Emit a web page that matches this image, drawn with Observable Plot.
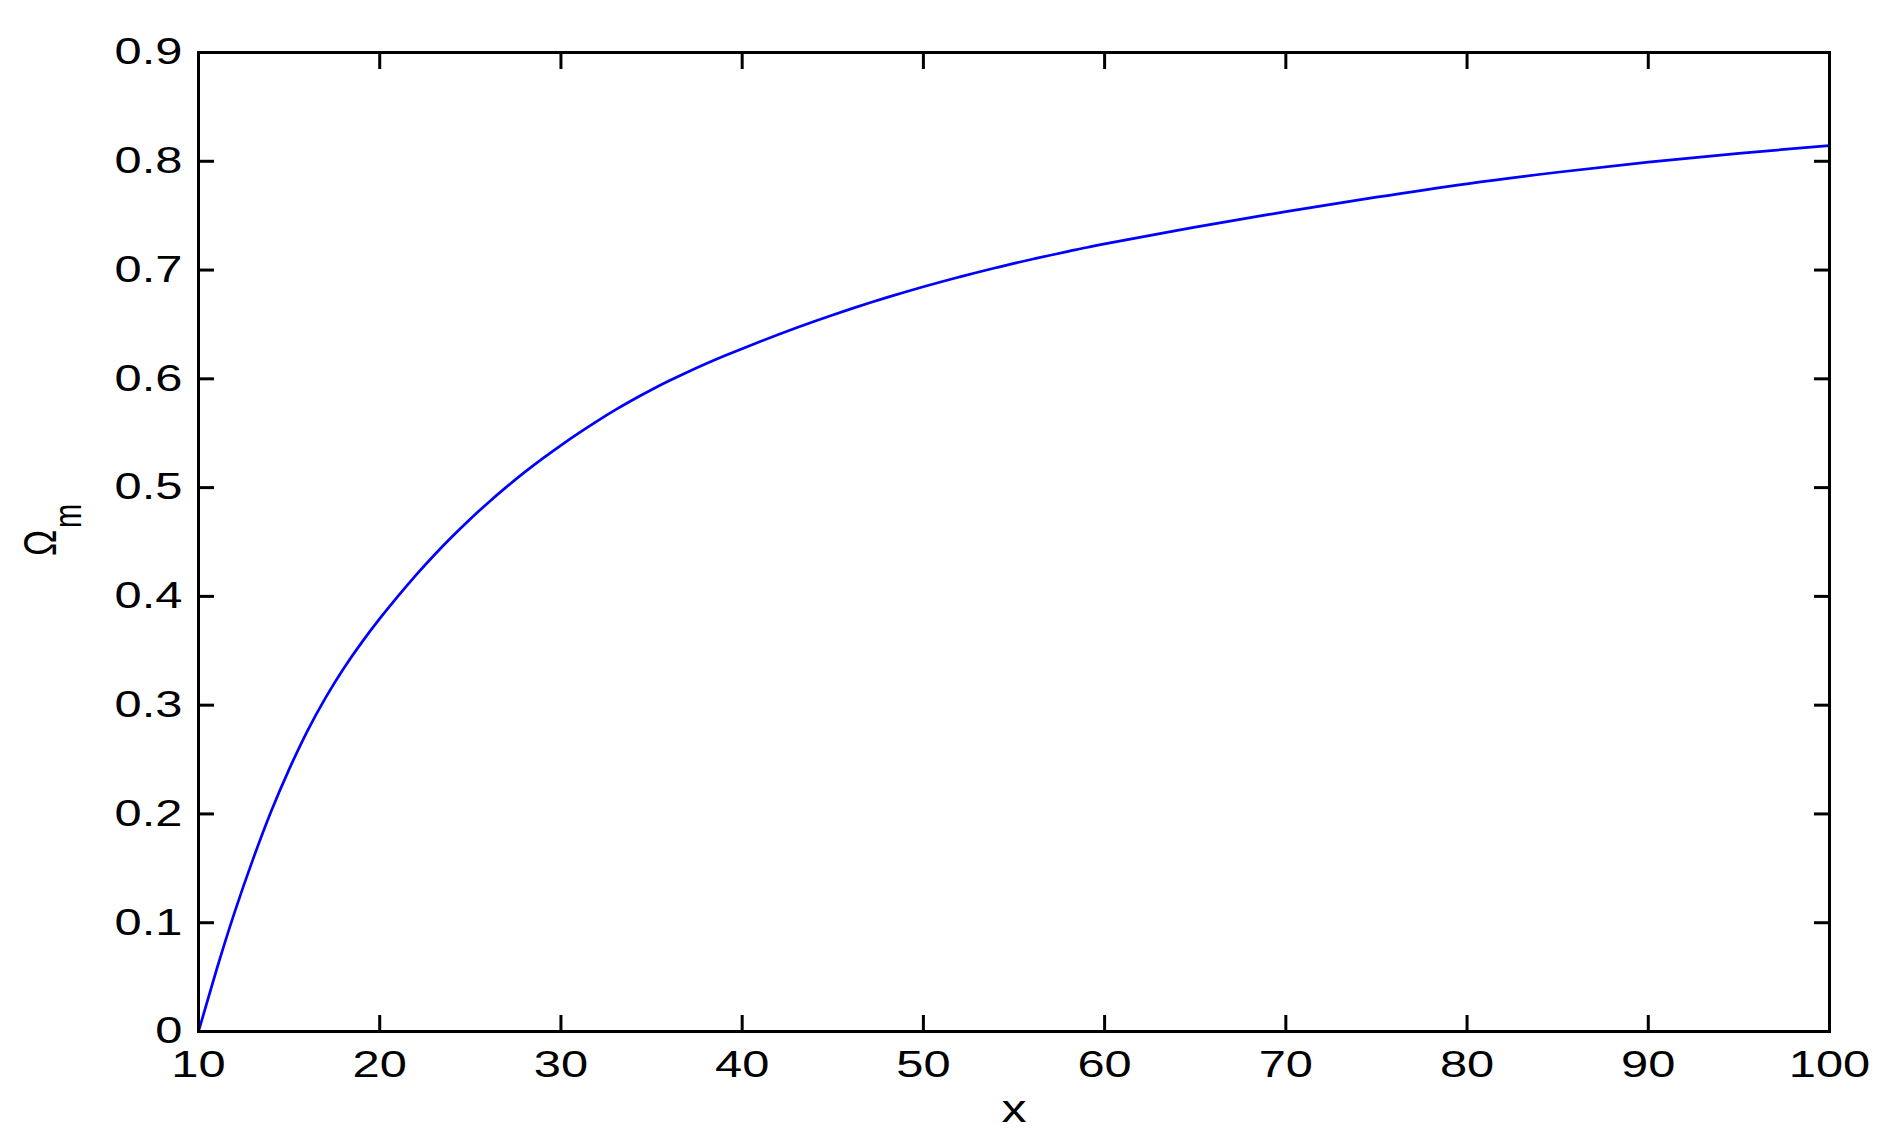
<!DOCTYPE html>
<html>
<head>
<meta charset="utf-8">
<script src="https://cdn.jsdelivr.net/npm/d3@7"></script>
<script src="https://cdn.jsdelivr.net/npm/@observablehq/plot@0.6"></script>
<style>
  html, body { margin: 0; padding: 0; background: #fff; }
  #chart svg { display: block; }
</style>
</head>
<body>
<div id="chart"></div>
<script>
// ---- data ----
const xValues = [10, 11, 12, 13, 14, 15, 16, 17, 18, 19, 20, 21, 22, 23, 24, 25, 26, 27, 28, 29, 30,
                 31, 32, 33, 34, 35, 36, 37, 38, 39, 40, 41, 42, 43, 44, 45, 46, 47, 48, 49, 50,
                 51, 52, 53, 54, 55, 56, 57, 58, 59, 60, 65, 70, 75, 80, 85, 90, 95, 100];
const omegaM  = [0, 0.057, 0.110, 0.158, 0.202, 0.241, 0.276, 0.3065, 0.3335, 0.3575, 0.3795,
                 0.400, 0.4195, 0.4378, 0.455, 0.4712, 0.4864, 0.5007, 0.5142, 0.5269, 0.5389,
                 0.5503, 0.5611, 0.5714, 0.581, 0.590, 0.5984, 0.6063, 0.6138, 0.6209, 0.6277,
                 0.6343, 0.6407, 0.6469, 0.6529, 0.6587, 0.6643, 0.6697, 0.6749, 0.6799, 0.6847,
                 0.6893, 0.6937, 0.698, 0.7021, 0.7061, 0.7099, 0.7136, 0.7172, 0.7207, 0.7241,
                 0.7394, 0.7537, 0.767, 0.7793, 0.7899, 0.7993, 0.8073, 0.8145];
const xTicks = [10, 20, 30, 40, 50, 60, 70, 80, 90, 100];
const yTicks = [0, 0.1, 0.2, 0.3, 0.4, 0.5, 0.6, 0.7, 0.8, 0.9];
const xLabel = "x";
const yLabelMain = "Ω";
const yLabelSub = "m";

const data = xValues.map((x, i) => ({x, y: omegaM[i]}));
const FS = 37;
const STRETCH = 1.32;

const chart = Plot.plot({
  width: 1884,
  height: 1142,
  marginLeft: 198,
  marginRight: 55,
  marginTop: 52,
  marginBottom: 111,
  style: {fontFamily: "'Liberation Sans', Arial, Helvetica, sans-serif", fontSize: FS + "px", color: "#000", background: "#fff"},
  x: {domain: [10, 100]},
  y: {domain: [0, 0.9]},
  marks: [
    Plot.axisX({anchor: "bottom", ticks: xTicks, tickSize: -16, tickPadding: 35, strokeWidth: 3, label: null, fontSize: FS}),
    Plot.axisX({anchor: "top", ticks: xTicks, tickSize: -16, tickFormat: () => "", strokeWidth: 3, label: null}),
    Plot.axisY({anchor: "left", ticks: yTicks, tickSize: -16, tickPadding: 32, strokeWidth: 3, label: null, fontSize: FS,
                tickFormat: d => String(+d.toFixed(1))}),
    Plot.axisY({anchor: "right", ticks: yTicks, tickSize: -16, tickFormat: () => "", strokeWidth: 3, label: null}),
    Plot.line(data, {x: "x", y: "y", stroke: "#0000ff", strokeWidth: 2.7, curve: "natural"}),
    Plot.frame({stroke: "#000", strokeWidth: 3}),
    Plot.text([xLabel], {text: d => d, frameAnchor: "bottom", dy: 78, fontSize: 38, lineAnchor: "middle"}),
    Plot.text([yLabelMain], {text: d => d, frameAnchor: "left", dx: -158, dy: 14, rotate: -90, fontSize: 35, lineAnchor: "middle"}),
    Plot.text([yLabelSub], {text: d => d, frameAnchor: "left", dx: -130, dy: -14, rotate: -90, fontSize: 29, lineAnchor: "middle"})
  ]
});

document.getElementById("chart").appendChild(chart);

// stretch glyphs horizontally (on screen) like the reference rendering
d3.select(chart).selectAll("text").each(function() {
  if (!this.textContent) return;
  const t = this.getAttribute("transform") || "";
  const bb = this.getBBox();
  const anchor = this.getAttribute("text-anchor") || (this.parentNode && this.parentNode.getAttribute("text-anchor")) || "middle";
  if (t.includes("rotate")) {
    const ay = bb.y + bb.height / 2;
    this.setAttribute("transform", `${t} translate(0,${ay}) scale(1,${STRETCH}) translate(0,${-ay})`);
  } else {
    let ax = bb.x + bb.width / 2;
    if (anchor === "end") ax = bb.x + bb.width;
    else if (anchor === "start") ax = bb.x;
    this.setAttribute("transform", `${t} translate(${ax},0) scale(${STRETCH},1) translate(${-ax},0)`);
  }
});
</script>
</body>
</html>
